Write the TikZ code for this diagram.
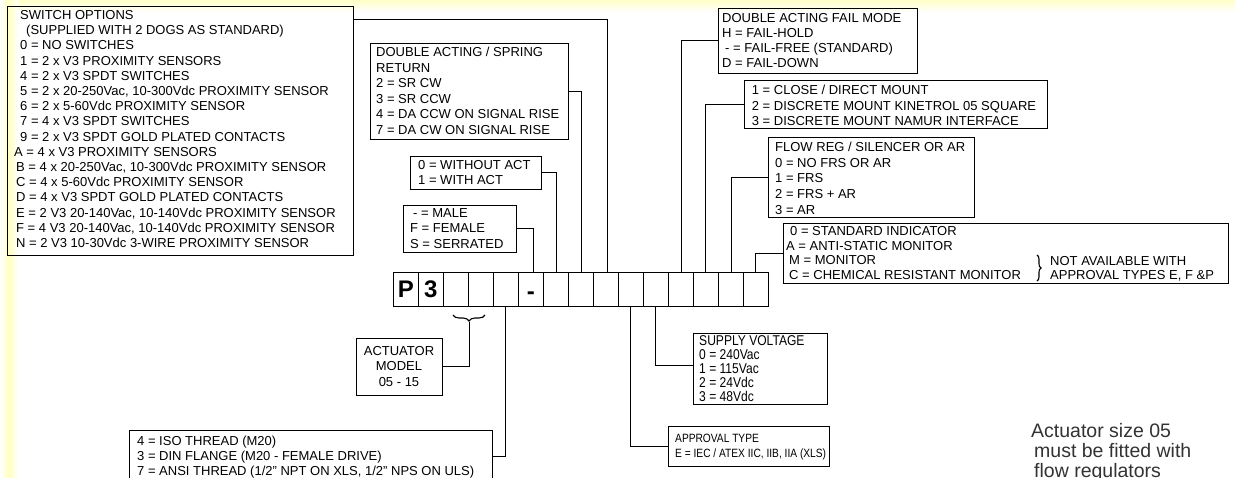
\documentclass[tikz,border=0pt]{standalone}
\usepackage{fontspec}
\setmainfont{Liberation Sans}
\newfontfamily\narrowfont[FakeStretch=0.85]{Liberation Sans}
\usetikzlibrary{decorations.pathreplacing,calc}
\begin{document}
\begin{tikzpicture}[x=1pt,y=-1pt,
  frame/.style={draw, line width=0.9pt, anchor=north west, inner sep=0pt, outer sep=0pt},
  txt/.style={anchor=north west, align=left, inner sep=0pt, font=\fontsize{13}{15.2}\selectfont},
  ntxt/.style={anchor=north west, align=left, inner sep=0pt, font=\narrowfont\fontsize{14.2}{14.2}\selectfont},
  wire/.style={line width=0.9pt},
  cell/.style={draw, line width=0.9pt, minimum width=25pt, minimum height=34pt, inner sep=0pt, outer sep=0pt, anchor=north west, font=\fontsize{24}{24}\selectfont\bfseries},
  brc/.style={decorate, line width=1.1pt},
]
\useasboundingbox (0,0) rectangle (1235,477);
\clip (0,0) rectangle (1235,477);
\fill[white] (0,0) rectangle (1235,477);
\shade[top color=yellow!22, bottom color=white] (0,0) rectangle (1235,12);
\shade[left color=white, right color=white, middle color=yellow!25] (0,0) rectangle (18,477);

% boxes
\node[frame, minimum width=346pt, minimum height=249pt] (swbox) at (7,6) {};
\node[txt] (swtxt) at (20,10.3) {SWITCH OPTIONS\\
\hspace*{6pt}(SUPPLIED WITH 2 DOGS AS STANDARD)\\
0 = NO SWITCHES\\
1 = 2 x V3 PROXIMITY SENSORS\\
4 = 2 x V3 SPDT SWITCHES\\
5 = 2 x 20-250Vac, 10-300Vdc PROXIMITY SENSOR\\
6 = 2 x 5-60Vdc PROXIMITY SENSOR\\
7 = 4 x V3 SPDT SWITCHES\\
9 = 2 x V3 SPDT GOLD PLATED CONTACTS\\
\hspace*{-6pt}A = 4 x V3 PROXIMITY SENSORS\\
\hspace*{-4pt}B = 4 x 20-250Vac, 10-300Vdc PROXIMITY SENSOR\\
\hspace*{-4pt}C = 4 x 5-60Vdc PROXIMITY SENSOR\\
\hspace*{-4pt}D = 4 x V3 SPDT GOLD PLATED CONTACTS\\
\hspace*{-4pt}E = 2 V3 20-140Vac, 10-140Vdc PROXIMITY SENSOR\\
\hspace*{-4pt}F = 4 V3 20-140Vac, 10-140Vdc PROXIMITY SENSOR\\
\hspace*{-4pt}N = 2 V3 10-30Vdc 3-WIRE PROXIMITY SENSOR};

\node[frame, minimum width=198pt, minimum height=96pt] (dabox) at (370,43) {};
\node[txt, font=\fontsize{13}{15.5}\selectfont] (datxt) at (376,47.3) {DOUBLE ACTING / SPRING\\
RETURN\\
2 = SR CW\\
3 = SR CCW\\
4 = DA CCW ON SIGNAL RISE\\
7 = DA CW ON SIGNAL RISE};

\node[frame, minimum width=131pt, minimum height=33pt] (actbox) at (410,156) {};
\node[txt, font=\fontsize{13}{15}\selectfont] (acttxt) at (418,160.3) {0 = WITHOUT ACT\\
1 = WITH ACT};

\node[frame, minimum width=113pt, minimum height=47pt] (malebox) at (403,205) {};
\node[txt, font=\fontsize{13}{15.5}\selectfont] (maletxt) at (410,208.3) {\hspace*{3pt}- = MALE\\
F = FEMALE\\
S = SERRATED};

\node[frame, minimum width=199pt, minimum height=65pt] (failbox) at (718,8) {};
\node[txt, font=\fontsize{13}{15}\selectfont] (failtxt) at (722,13.6) {DOUBLE ACTING FAIL MODE\\
H = FAIL-HOLD\\
\hspace*{3pt}- = FAIL-FREE (STANDARD)\\
D = FAIL-DOWN};

\node[frame, minimum width=303pt, minimum height=48pt] (mountbox) at (744,80) {};
\node[txt, font=\fontsize{13}{15.3}\selectfont] (mounttxt) at (751.7,85.3) {1 = CLOSE / DIRECT MOUNT\\
2 = DISCRETE MOUNT KINETROL 05 SQUARE\\
3 = DISCRETE MOUNT NAMUR INTERFACE};

\node[frame, minimum width=206pt, minimum height=80pt] (flowbox) at (768,137) {};
\node[txt, font=\fontsize{13}{15.6}\selectfont] (flowtxt) at (775,142) {FLOW REG / SILENCER OR AR\\
0 = NO FRS OR AR\\
1 = FRS\\
2 = FRS + AR\\
3 = AR};

\node[frame, minimum width=445pt, minimum height=60pt] (monbox) at (783,223) {};
\node[txt, font=\fontsize{13}{14.7}\selectfont] (montxt) at (786,226.3) {\hspace*{4pt}0 = STANDARD INDICATOR\\
A = ANTI-STATIC MONITOR\\
\hspace*{3pt}M = MONITOR\\
\hspace*{3pt}C = CHEMICAL RESISTANT MONITOR};
\node[txt, font=\fontsize{13}{14.7}\selectfont] (notavail) at (1050,255.8) {NOT AVAILABLE WITH\\
APPROVAL TYPES E, F \&P};
\coordinate (mbrtop) at (1037,255);
\coordinate (mbrbot) at (1037,281);
\draw[brc, decoration={brace, amplitude=4pt}] (mbrtop) -- (mbrbot);

% code cells
\node[cell, line width=0.6pt] (c1) at (393.3,272.3) {P};
\node[cell] (c2) at (c1.north east) {3};
\node[cell] (c3) at (c2.north east) {};
\node[cell] (c4) at (c3.north east) {};
\node[cell] (c5) at (c4.north east) {};
\node[cell] (c6) at (c5.north east) {\smash{\raisebox{-10pt}{-}}};
\node[cell] (c7) at (c6.north east) {};
\node[cell] (c8) at (c7.north east) {};
\node[cell] (c9) at (c8.north east) {};
\node[cell] (c10) at (c9.north east) {};
\node[cell] (c11) at (c10.north east) {};
\node[cell] (c12) at (c11.north east) {};
\node[cell] (c13) at (c12.north east) {};
\node[cell] (c14) at (c13.north east) {};
\node[cell, line width=0.6pt] (c15) at (c14.north east) {};
\draw[line width=1.6pt] (c2.north west) -- (c14.north east);
\draw[line width=1.6pt] (c2.south west) -- (c14.south east);

% connectors above
\draw[wire] (malebox.east) -| ([xshift=3pt]c6.north);
\draw[wire] (actbox.east) -| ([xshift=1pt]c7.north);
\draw[wire] (dabox.east) -| ([xshift=1pt]c8.north);
\draw[wire] ([yshift=-13pt]swbox.north east) -| ([xshift=2pt]c9.north);
\draw[wire] (failbox.west) -| ([xshift=1pt]c12.north);
\draw[wire] (mountbox.west) -| (c13.north);
\draw[wire] (flowbox.west) -| ([xshift=1pt]c14.north);
\draw[wire] (monbox.west) -| (c15.north);

% below
\coordinate (brl) at (453,315);
\coordinate (brr) at (485,315);
\coordinate (brtip) at (469.3,322);
\draw[brc, decoration={brace, mirror, amplitude=6pt}] (brl) -- (brr);

\node[frame, minimum width=86pt, minimum height=57pt] (modelbox) at (356,338) {};
\node[align=center, inner sep=0pt, font=\fontsize{13}{15.5}\selectfont] (modeltxt) at (modelbox.center) {ACTUATOR\\MODEL\\05 - 15};
\draw[wire] (brtip) |- (modelbox.east);

\node[frame, minimum width=363pt, minimum height=52pt] (threadbox) at (129,430) {};
\node[txt, font=\fontsize{13}{15}\selectfont] (threadtxt) at (137,436.3) {4 = ISO THREAD (M20)\\
3 = DIN FLANGE (M20 - FEMALE DRIVE)\\
7 = ANSI THREAD (1/2" NPT ON XLS, 1/2" NPS ON ULS)};
\draw[wire] (c5.south) |- (threadbox.east);

\node[frame, minimum width=134pt, minimum height=71pt] (supplybox) at (693,333) {};
\node[ntxt] (supplytxt) at (699,335) {SUPPLY VOLTAGE\\
0 = 240Vac\\
1 = 115Vac\\
2 = 24Vdc\\
3 = 48Vdc};
\draw[wire] (c11.south) |- ([yshift=3pt]supplybox.west);

\node[frame, minimum width=161pt, minimum height=40pt] (approvalbox) at (668,426) {};
\node[ntxt, font=\narrowfont\fontsize{12}{15}\selectfont] (approvaltxt) at (675,433.5) {APPROVAL TYPE\\
E = IEC / ATEX IIC, IIB, IIA (XLS)};
\draw[wire] (c10.south) |- (approvalbox.west);

\node[anchor=north west, align=left, inner sep=0pt, text=black!80, font=\fontsize{19.5}{20}\selectfont] (note) at (1031,423) {Actuator size 05\\
\hspace*{3pt}must be fitted with\\
\hspace*{3pt}flow regulators};
\end{tikzpicture}
\end{document}
